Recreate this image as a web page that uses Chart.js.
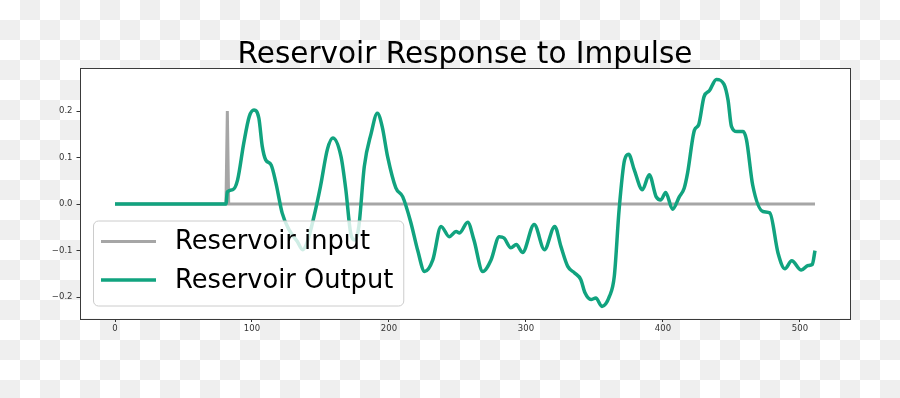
<!DOCTYPE html>
<html>
<head>
<meta charset="utf-8">
<script src="https://cdn.jsdelivr.net/npm/chart.js@4/dist/chart.umd.min.js"></script>
<style>
  html, body { margin: 0; padding: 0; }
  body {
    width: 900px; height: 398px; overflow: hidden;
    background: repeating-conic-gradient(#efefef 0 25%, #ffffff 0 50%) 0 0 / 40px 40px;
  }
  #graph { display: block; }
</style>
</head>
<body>
<canvas id="graph" width="900" height="398"></canvas>
<script>
// impulse fed into the reservoir
const inputX = [0, 81, 82, 83, 511];
const inputY = [0, 0, 0.2, 0, 0];

// reservoir output
const outputX = [0, 81, 82, 86, 89.5, 94, 98, 101.5, 105, 107.5, 110, 114, 117.5, 122, 127, 133, 137, 140.5,
  145, 150, 155, 159, 165, 168.5, 172, 175, 178, 182, 187, 191.5, 195, 199, 205, 210, 216, 221, 226, 232,
  238, 244, 249, 251.5, 257.5, 262, 268.5, 274.5, 280.5, 284, 289, 293, 297.5, 306, 313.5, 321, 325.5,
  330.5, 335.5, 340, 343, 347.5, 351, 355.5, 361, 364.5, 368, 372, 375, 379, 385, 390, 395, 398.5, 402,
  407, 412, 415.5, 418, 423, 426, 430, 434, 439, 444.5, 447.5, 450, 454, 458.5, 461, 465.5, 473, 478,
  484, 489, 494, 501, 506, 509, 511];
const outputY = [0, 0, 0.026, 0.031, 0.052, 0.131, 0.188, 0.202, 0.185, 0.124, 0.095, 0.084, 0.045, -0.019,
  -0.055, -0.08, -0.098, -0.08, -0.03, 0.038, 0.117, 0.142, 0.102, 0.031, -0.062, -0.077, -0.048, 0.081,
  0.152, 0.195, 0.167, 0.102, 0.035, 0.016, -0.04, -0.1, -0.145, -0.12, -0.048, -0.07, -0.059, -0.062,
  -0.039, -0.077, -0.145, -0.12, -0.07, -0.073, -0.094, -0.087, -0.104, -0.044, -0.098, -0.048, -0.091,
  -0.134, -0.148, -0.162, -0.19, -0.205, -0.202, -0.22, -0.198, -0.155, -0.012, 0.095, 0.107, 0.074,
  0.031, 0.063, 0.016, 0.009, 0.025, -0.011, 0.016, 0.034, 0.067, 0.159, 0.17, 0.231, 0.244, 0.268,
  0.258, 0.224, 0.167, 0.156, 0.156, 0.138, 0.041, -0.016, -0.019, -0.105, -0.139, -0.122, -0.142,
  -0.132, -0.13, -0.1];

const xTicks = [0, 100, 200, 300, 400, 500];
const yTicks = [-0.2, -0.1, 0.0, 0.1, 0.2];
const seriesLabels = ['Reservoir input', 'Reservoir Output'];
const chartTitle = 'Reservoir Response to Impulse';

function toPoints(xs, ys) {
  return xs.map(function (x, i) { return { x: x, y: ys[i] }; });
}

// white plot area, frame, title and the matplotlib-style legend
const framePlugin = {
  id: 'frame',
  beforeDraw: function (chart) {
    const ca = chart.chartArea, ctx = chart.ctx;
    ctx.save();
    ctx.fillStyle = '#ffffff';
    ctx.fillRect(ca.left, ca.top, ca.right - ca.left, ca.bottom - ca.top);
    ctx.restore();
  },
  afterDraw: function (chart) {
    const ca = chart.chartArea, ctx = chart.ctx;
    ctx.save();
    ctx.strokeStyle = '#3a3a3a';
    ctx.lineWidth = 1;
    ctx.strokeRect(Math.round(ca.left) + 0.5, Math.round(ca.top) + 0.5,
      Math.round(ca.right - ca.left), Math.round(ca.bottom - ca.top));

    ctx.fillStyle = '#000000';
    ctx.font = '29.5px "DejaVu Sans"';
    ctx.textAlign = 'center';
    ctx.textBaseline = 'alphabetic';
    ctx.fillText(chartTitle, (ca.left + ca.right) / 2, ca.top - 5.5);

    // legend
    ctx.font = '25.7px "DejaVu Sans"';
    let maxW = 0;
    seriesLabels.forEach(function (t) { maxW = Math.max(maxW, ctx.measureText(t).width); });
    const x0 = ca.left + 13, h = 85, y0 = ca.bottom - 13 - h;
    const w = 82 + maxW + 10;
    ctx.beginPath();
    ctx.roundRect(x0 + 0.5, y0 + 0.5, w, h, 5);
    ctx.fillStyle = 'rgba(255,255,255,0.8)';
    ctx.fill();
    ctx.strokeStyle = '#cccccc';
    ctx.lineWidth = 1;
    ctx.stroke();
    const rows = [y0 + 21, y0 + 59.5];
    [0, 1].forEach(function (i) {
      const ds = chart.data.datasets[i];
      ctx.beginPath();
      ctx.moveTo(x0 + 8, rows[i]);
      ctx.lineTo(x0 + 63, rows[i]);
      ctx.strokeStyle = ds.borderColor;
      ctx.lineWidth = ds.borderWidth;
      ctx.stroke();
      ctx.fillStyle = '#000000';
      ctx.textAlign = 'left';
      ctx.textBaseline = 'middle';
      ctx.fillText(seriesLabels[i], x0 + 82, rows[i] + 1);
    });
    ctx.restore();
  }
};

const tickFont = { family: 'DejaVu Sans', size: 8.5 };

new Chart(document.getElementById('graph').getContext('2d'), {
  type: 'line',
  data: {
    datasets: [
      {
        label: seriesLabels[0],
        data: toPoints(inputX, inputY),
        borderColor: '#a6a6a6',
        borderWidth: 3,
        pointRadius: 0,
        tension: 0,
        order: 2
      },
      {
        label: seriesLabels[1],
        data: toPoints(outputX, outputY),
        borderColor: '#11a37f',
        borderWidth: 3.5,
        pointRadius: 0,
        cubicInterpolationMode: 'monotone',
        order: 1
      }
    ]
  },
  options: {
    responsive: false,
    animation: false,
    layout: { padding: { top: 68, right: 50, left: 0, bottom: 0 } },
    plugins: { legend: { display: false }, title: { display: false }, tooltip: { enabled: false } },
    scales: {
      x: {
        type: 'linear',
        min: -25.55,
        max: 536.55,
        afterBuildTicks: function (scale) { scale.ticks = xTicks.map(function (v) { return { value: v }; }); },
        afterFit: function (scale) { scale.height = 79.5; },
        grid: { drawOnChartArea: false, drawTicks: true, tickLength: 3.5, color: '#333333' },
        border: { display: false },
        ticks: { font: tickFont, color: '#333333', padding: 2, maxRotation: 0,
          callback: function (v) { return String(v); } }
      },
      y: {
        type: 'linear',
        min: -0.246,
        max: 0.2925,
        afterBuildTicks: function (scale) { scale.ticks = yTicks.map(function (v) { return { value: v }; }); },
        afterFit: function (scale) { scale.width = 80; },
        grid: { drawOnChartArea: false, drawTicks: true, tickLength: 3.5, color: '#333333' },
        border: { display: false },
        ticks: { font: tickFont, color: '#333333', padding: 4,
          callback: function (v) { return v.toFixed(1).replace('-', '\u2212'); } }
      }
    }
  },
  plugins: [framePlugin]
});
</script>
</body>
</html>
